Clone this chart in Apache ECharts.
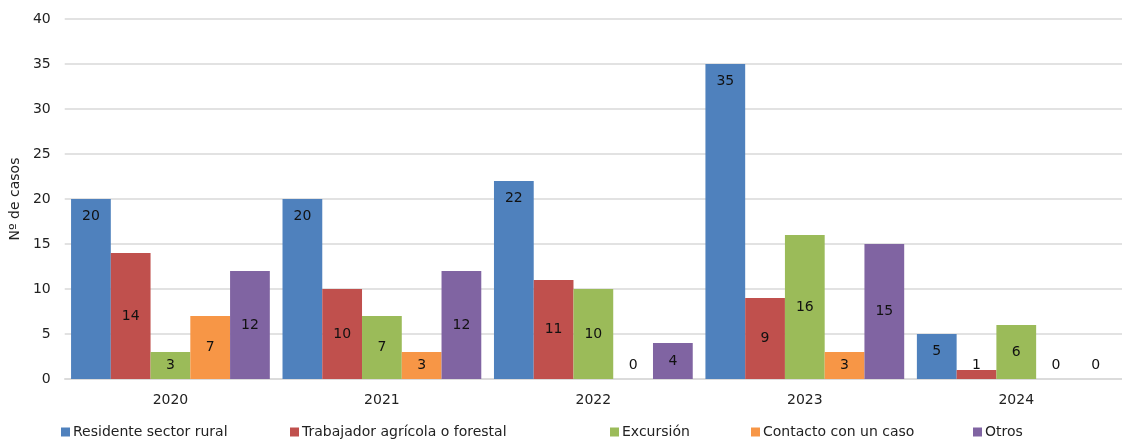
<!DOCTYPE html>
<html>
<head>
<meta charset="utf-8">
<script src="https://cdn.jsdelivr.net/npm/echarts@6/dist/echarts.min.js"></script>
<style>
  html, body { margin: 0; padding: 0; background: #fff; }
  #chart { width: 1122px; height: 439px; }
</style>
</head>
<body>
<div id="chart"></div>
<script>
  // data
  const years = ['2020', '2021', '2022', '2023', '2024']
  const residente = [20, 20, 22, 35, 5]
  const trabajador = [14, 10, 11, 9, 1]
  const excursion = [3, 7, 10, 16, 6]
  const contacto = [7, 3, 0, 3, 0]
  const otros = [12, 12, 4, 15, 0]

  const seriesDefs = [
    { name: 'Residente sector rural', data: residente, color: '#4F81BD', pos: 'insideTop', legendLeft: 61 },
    { name: 'Trabajador agrícola o forestal', data: trabajador, color: '#C0504D', pos: 'inside', legendLeft: 290 },
    { name: 'Excursión', data: excursion, color: '#9BBB59', pos: 'inside', legendLeft: 610 },
    { name: 'Contacto con un caso', data: contacto, color: '#F79646', pos: 'inside', legendLeft: 751 },
    { name: 'Otros', data: otros, color: '#8064A2', pos: 'inside', legendLeft: 973 }
  ]

  const font = 'DejaVu Sans, Verdana, sans-serif'
  const chart = echarts.init(document.getElementById('chart'))

  chart.setOption({
    animation: false,
    textStyle: { fontFamily: font },
    grid: { left: 63, top: 19, bottom: 60, right: -7 },
    legend: seriesDefs.map(s => ({
      data: [s.name],
      left: s.legendLeft,
      top: 425,
      padding: 0,
      itemWidth: 9,
      itemHeight: 9,
      itemGap: 4,
      icon: 'rect',
      textStyle: { fontFamily: font, fontSize: 14, color: '#222', padding: [0, 0, 0, -2] }
    })),
    xAxis: {
      type: 'category',
      data: years,
      axisTick: { show: false },
      axisLine: { lineStyle: { color: '#d9d9d9', width: 1.5 } },
      axisLabel: { color: '#222', fontSize: 14, margin: 14 }
    },
    yAxis: {
      type: 'value',
      min: 0,
      max: 40,
      interval: 5,
      name: 'Nº de casos',
      nameLocation: 'middle',
      nameGap: 42,
      nameTextStyle: { color: '#222', fontSize: 14 },
      axisLabel: { color: '#222', fontSize: 14, margin: 14 },
      splitLine: { lineStyle: { color: '#d9d9d9', width: 1.5 } }
    },
    series: seriesDefs.map(s => ({
      name: s.name,
      type: 'bar',
      barGap: '0%',
      barCategoryGap: '6%',
      itemStyle: { color: s.color },
      label: {
        show: true,
        position: s.pos,
        distance: 10,
        color: '#111',
        fontSize: 14
      },
      data: s.data.map(v => v <= 1
        ? { value: v, label: { position: 'insideBottom', distance: 7 } }
        : v)
    }))
  })
</script>
</body>
</html>
